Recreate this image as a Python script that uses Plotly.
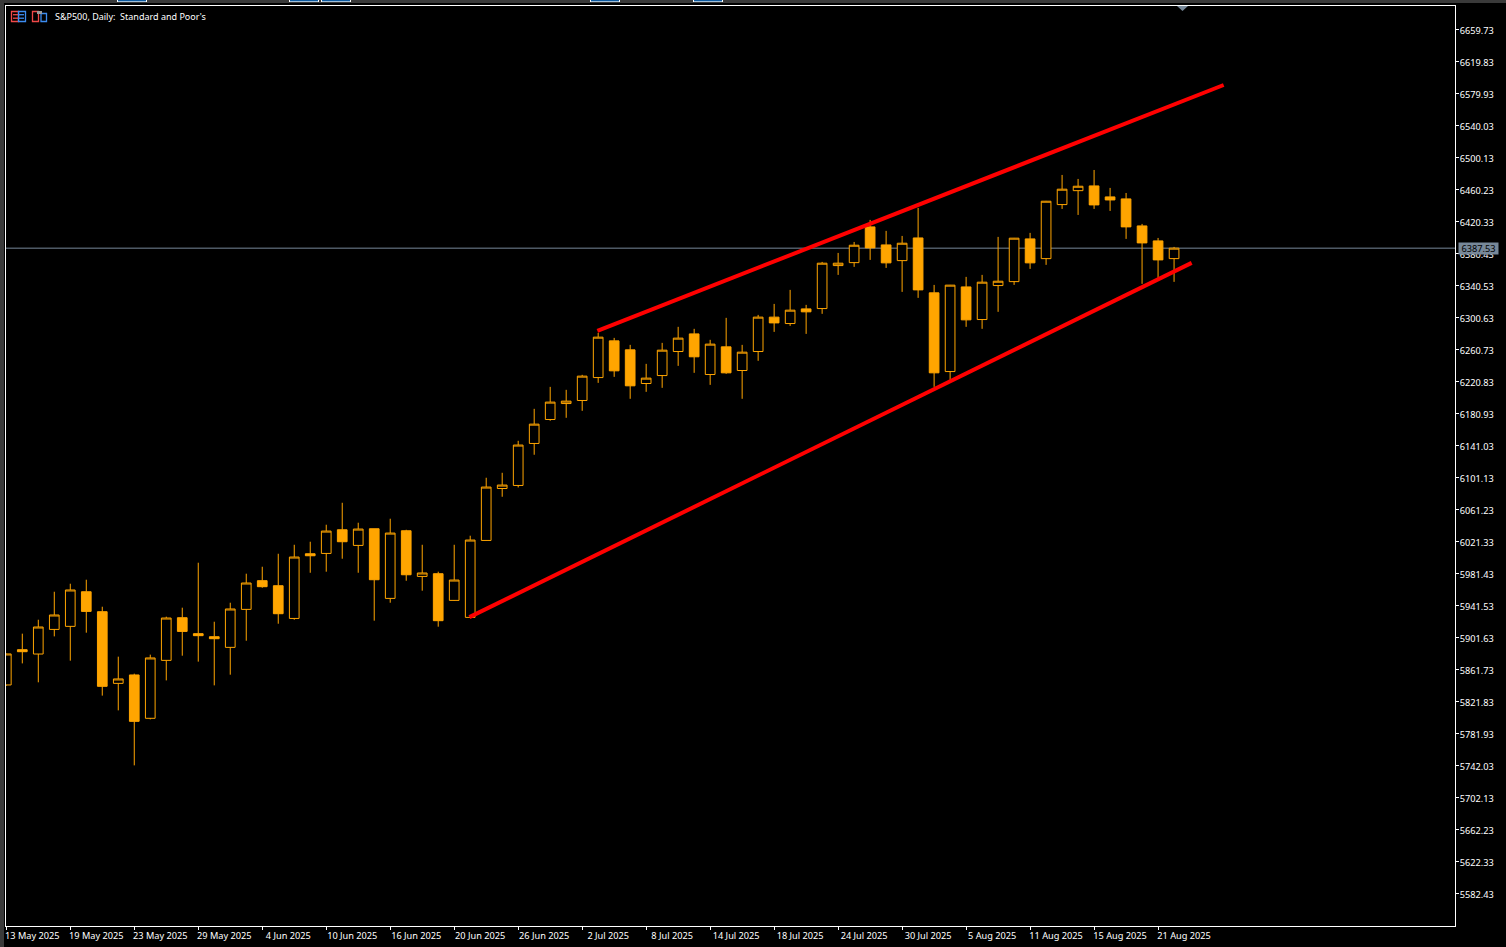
import plotly.graph_objects as go

TITLE = "S&P500, Daily:  Standard and Poor's"
LAST_PRICE = 6387.53

opens = [5842.6,5886.6,5881.2,5911.9,5915.7,5958.9,5934.0,5844.6,5855.1,5801.0,
         5873.3,5926.5,5906.6,5902.8,5889.5,5936.9,5972.7,5966.4,5925.6,6006.3,
         6006.7,6036.2,6016.7,6037.5,5950.6,6035.0,5978.0,5981.4,5948.1,5926.9,
         6022.9,6087.7,6091.5,6143.9,6173.8,6193.7,6197.5,6226.1,6271.9,6260.7,
         6218.7,6228.6,6258.6,6280.6,6229.9,6264.4,6234.9,6258.6,6301.5,6293.5,
         6311.8,6312.2,6365.8,6369.5,6414.1,6391.6,6372.0,6400.3,6331.8,6233.6,
         6339.2,6298.5,6340.9,6345.8,6399.1,6374.5,6441.9,6459.3,6465.2,6451.5,
         6449.0,6415.3,6396.6,6374.5]
highs = [5881.6,5906.6,5924.0,5958.9,5968.9,5973.9,5940.2,5877.9,5856.7,5880.4,
         5927.8,5939.0,5995.1,5921.5,5945.2,5981.4,5990.1,6006.3,6017.5,6021.3,
         6042.5,6069.9,6045.0,6037.5,6050.0,6036.2,6017.5,5983.9,6017.5,6028.8,
         6101.1,6107.3,6147.2,6187.1,6214.5,6210.8,6229.5,6281.9,6275.6,6266.9,
         6243.2,6269.4,6289.4,6286.9,6273.2,6300.6,6266.9,6304.3,6318.0,6335.5,
         6316.8,6370.4,6381.6,6395.3,6422.8,6409.1,6402.8,6437.8,6341.7,6341.7,
         6351.7,6354.2,6401.6,6400.3,6406.6,6446.5,6478.9,6473.9,6485.1,6462.7,
         6456.4,6417.8,6400.3,6389.1]
lows = [5841.8,5869.5,5845.9,5903.2,5872.9,5907.8,5829.3,5810.9,5742.3,5799.7,
        5848.3,5879.1,5871.7,5842.1,5855.4,5897.8,5963.9,5919.0,5924.0,5982.6,
        5983.9,6000.1,5982.6,5922.8,5945.2,5972.6,5960.2,5915.3,5947.7,5926.5,
        6022.5,6077.4,6089.0,6129.8,6172.2,6175.9,6184.6,6219.5,6227.0,6199.6,
        6208.3,6213.3,6240.7,6232.0,6217.0,6230.8,6199.6,6247.0,6283.1,6290.6,
        6280.6,6305.6,6354.2,6364.2,6372.9,6362.9,6333.0,6325.5,6214.5,6223.3,
        6289.4,6286.9,6308.1,6341.7,6361.7,6366.7,6436.5,6429.0,6436.5,6434.0,
        6399.1,6343.0,6350.5,6345.5]
closes = [5881.3,5884.1,5914.9,5929.9,5961.1,5934.4,5840.9,5850.1,5797.2,5876.3,
          5926.1,5909.4,5904.1,5900.3,5937.4,5969.8,5965.2,5931.5,6002.2,6003.8,
          6034.6,6021.3,6037.1,5973.9,6032.1,5980.1,5982.3,5922.8,5973.5,6023.4,
          6089.5,6092.0,6141.9,6168.0,6195.5,6196.7,6227.9,6276.5,6234.5,6215.8,
          6225.4,6260.3,6275.3,6252.0,6267.8,6232.0,6257.8,6301.5,6294.3,6310.2,
          6308.1,6368.8,6368.8,6391.2,6387.9,6369.2,6393.7,6335.5,6232.0,6341.4,
          6298.1,6345.1,6346.3,6400.0,6369.2,6446.1,6461.1,6464.8,6441.5,6447.7,
          6414.1,6394.1,6372.9,6387.53]
bars = list(range(len(opens)))

x_tick_bars = list(range(0, 73, 4))
x_tick_labels = ["13 May 2025","19 May 2025","23 May 2025","29 May 2025","4 Jun 2025",
                 "10 Jun 2025","16 Jun 2025","20 Jun 2025","26 Jun 2025","2 Jul 2025",
                 "8 Jul 2025","14 Jul 2025","18 Jul 2025","24 Jul 2025","30 Jul 2025",
                 "5 Aug 2025","11 Aug 2025","15 Aug 2025","21 Aug 2025"]
y_ticks = [6659.73,6619.83,6579.93,6540.03,6500.13,6460.23,6420.33,6380.43,6340.53,6300.63,
           6260.73,6220.83,6180.93,6141.03,6101.13,6061.23,6021.33,5981.43,5941.53,5901.63,
           5861.73,5821.83,5781.93,5742.03,5702.13,5662.23,5622.33,5582.43]

upper_x = [36.95, 76.1]
upper_y = [6284.4, 6591.1]
lower_x = [28.95, 74.1]
lower_y = [5927.2, 6369.2]

ORANGE = "#FFA500"
RED = "#FF0000"
SLATE = "#778899"
FONT = "Noto Sans"
FS = 9.2

# plot rectangle in page pixels
L, R, T, B = 6, 1455, 6, 926
W, H = 1506, 947
def px(x): return (x - L) / (R - L)
def py(y): return (B - y) / (B - T)

fig = go.Figure()
fig.add_trace(go.Candlestick(
    x=bars, open=opens, high=highs, low=lows, close=closes,
    whiskerwidth=0,
    increasing=dict(line=dict(color=ORANGE, width=1), fillcolor="#000000"),
    decreasing=dict(line=dict(color=ORANGE, width=1), fillcolor=ORANGE),
    hoverinfo="skip", showlegend=False))
for xs, ys in ((upper_x, upper_y), (lower_x, lower_y)):
    fig.add_trace(go.Scatter(x=xs, y=ys, mode="lines", showlegend=False, hoverinfo="skip",
                             line=dict(color=RED, width=4)))

shapes = [
    dict(type="line", xref="paper", yref="y", x0=0, x1=1, y0=LAST_PRICE, y1=LAST_PRICE,
         line=dict(color=SLATE, width=1), layer="below"),
    dict(type="path", xref="paper", yref="paper",
         path=f"M {px(1177)} {py(6)} L {px(1188)} {py(6)} L {px(1182.5)} {py(11)} Z",
         fillcolor=SLATE, line=dict(width=0)),
]
def fill(x0, y0, x1, y1, color):
    shapes.append(dict(type="rect", xref="paper", yref="paper",
                       x0=px(x0), x1=px(x1), y0=py(y1), y1=py(y0),
                       fillcolor=color, line=dict(width=0)))
def box(x0, y0, x1, y1, color):
    shapes.append(dict(type="rect", xref="paper", yref="paper",
                       x0=px(x0), x1=px(x1), y0=py(y1), y1=py(y0),
                       line=dict(color=color, width=1.3)))
def hline(x0, x1, y, color):
    shapes.append(dict(type="line", xref="paper", yref="paper",
                       x0=px(x0), x1=px(x1), y0=py(y), y1=py(y),
                       line=dict(color=color, width=1.3)))

# window chrome: left and top strips, tab remnants
fill(0, 0, 4, 947, "#3a3a3a")
fill(0, 0, 1506, 3, "#3a3a3a")
for a, b in ((117, 147), (289, 319), (321, 351), (590, 620), (693, 723)):
    fill(a, 0, b, 2, "#FFFFFF")
    fill(a + 1, 0, b - 1, 1.4, "#0F5A9E")

# title-bar icons
RED_I, BLUE_I, GRAY_I = "#F04848", "#3C8CF0", "#9A9A9A"
box(11.5, 11.5, 18.5, 21.5, RED_I)
box(18.5, 11.5, 25.5, 21.5, BLUE_I)
for yy in (14.7, 18.2):
    hline(13, 18, yy, RED_I)
    hline(19, 24, yy, BLUE_I)
box(32.5, 11.5, 38.5, 21.5, RED_I)
box(41, 13.5, 46.5, 21.5, BLUE_I)
fill(37, 11, 42, 14, GRAY_I)

annotations = [
    dict(text=TITLE, xref="paper", yref="paper", x=px(53), y=py(16),
         xanchor="left", yanchor="middle", showarrow=False,
         font=dict(family=FONT, size=9, color="#FFFFFF")),
    dict(text=f"{LAST_PRICE:.2f}", xref="paper", yref="y", x=px(1458), y=LAST_PRICE,
         xanchor="left", yanchor="middle", showarrow=False, bgcolor=SLATE,
         width=39, height=11, align="center", borderpad=0,
         font=dict(family=FONT, size=FS, color="#000000")),
]

fig.update_layout(
    width=W, height=H,
    margin=dict(l=L, r=W - R, t=T, b=H - B, autoexpand=False),
    paper_bgcolor="#000000", plot_bgcolor="#000000",
    boxgap=0.394, boxgroupgap=0, showlegend=False, hovermode=False,
    shapes=shapes, annotations=annotations,
    font=dict(family=FONT, size=FS, color="#FFFFFF"),
    xaxis=dict(
        range=[-0.019, 90.562], rangeslider=dict(visible=False), showgrid=False, zeroline=False,
        tickmode="array", tickvals=x_tick_bars, ticktext=x_tick_labels,
        ticks="outside", ticklen=3, tickcolor="#FFFFFF", tickwidth=1,
        ticklabelshift=26, ticklabelstandoff=-2,
        showline=True, linecolor="#FFFFFF", linewidth=1, mirror=True,
        tickfont=dict(family=FONT, size=FS, color="#FFFFFF")),
    yaxis=dict(
        range=[5541.89, 6689.66], side="right", showgrid=False, zeroline=False,
        tickmode="array", tickvals=y_ticks, ticktext=[f"{v:.2f}" for v in y_ticks],
        ticks="outside", ticklen=3, tickcolor="#FFFFFF", tickwidth=1,
        ticklabelshift=1, ticklabelstandoff=-1,
        showline=True, linecolor="#FFFFFF", linewidth=1, mirror=True,
        tickfont=dict(family=FONT, size=FS, color="#FFFFFF")),
)

fig.write_html("out.html", config=dict(displayModeBar=False),
               post_script="document.body.style.margin='0';document.body.style.background='#000';")
